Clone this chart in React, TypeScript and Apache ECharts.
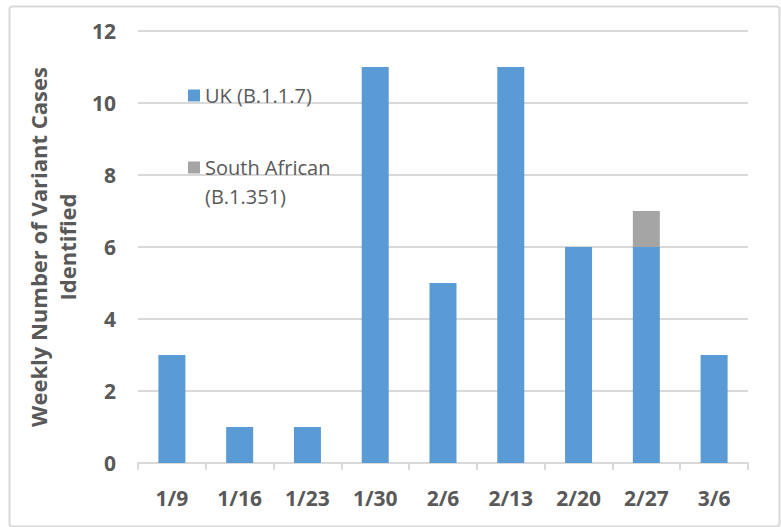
import React, { useEffect, useRef } from "react";
import * as echarts from "echarts";

const categories = ["1/9", "1/16", "1/23", "1/30", "2/6", "2/13", "2/20", "2/27", "3/6"];
const ukValues = [3, 1, 1, 11, 5, 11, 6, 6, 3];
const saValues = [0, 0, 0, 0, 0, 0, 0, 1, 0];
const yTicks = { min: 0, max: 12, interval: 2 };
const ukName = "UK (B.1.1.7)";
const saName = "South African\n(B.1.351)";
const yTitle = "Weekly Number of Variant Cases\nIdentified";

const FONT = "'Open Sans', 'Noto Sans', sans-serif";
const GRAY_TEXT = "#595959";

export default function App() {
  const ref = useRef<HTMLDivElement>(null);
  useEffect(() => {
    if (!ref.current) return;
    const chart = echarts.init(ref.current, null, { renderer: "svg" });
    chart.setOption({
      animation: false,
      backgroundColor: "#ffffff",
      textStyle: { fontFamily: FONT },
      grid: {
        left: 138,
        right: 33,
        top: 31,
        bottom: 64,
        containLabel: false,
        outerBoundsMode: "none",
      },
      graphic: [
        {
          type: "rect",
          left: 7,
          top: 4,
          shape: { width: 770, height: 520, r: 3 },
          style: { fill: "none", stroke: "#d9d9d9", lineWidth: 2 },
          silent: true,
        },
      ],
      legend: [
        {
          data: [ukName],
          orient: "vertical",
          left: 183,
          top: 76,
          itemWidth: 12,
          itemHeight: 12,
          icon: "rect",
          textStyle: { color: GRAY_TEXT, fontSize: 20, fontFamily: FONT, lineHeight: 29 },
          selectedMode: false,
        },
        {
          data: [saName],
          orient: "vertical",
          left: 183,
          top: 119,
          itemWidth: 12,
          itemHeight: 12,
          icon: "rect",
          formatter: (name: string) => " \n" + name,
          textStyle: {
            color: GRAY_TEXT,
            fontSize: 20,
            fontFamily: FONT,
            lineHeight: 29,
          },
          selectedMode: false,
        },
      ],
      xAxis: {
        type: "category",
        data: categories,
        axisLine: { lineStyle: { color: "#d9d9d9", width: 2 } },
        axisTick: { show: true, length: 7, lineStyle: { color: "#d9d9d9", width: 2 } },
        axisLabel: {
          color: GRAY_TEXT,
          fontSize: 21,
          fontWeight: "bold",
          fontFamily: FONT,
          margin: 24,
        },
      },
      yAxis: {
        type: "value",
        min: yTicks.min,
        max: yTicks.max,
        interval: yTicks.interval,
        name: yTitle,
        nameLocation: "middle",
        nameGap: 41,
        nameTextStyle: {
          color: GRAY_TEXT,
          fontSize: 22,
          fontWeight: "bold",
          fontFamily: FONT,
          lineHeight: 29,
        },
        axisLine: { show: false },
        axisTick: { show: false },
        axisLabel: {
          color: GRAY_TEXT,
          fontSize: 21,
          fontWeight: "bold",
          fontFamily: FONT,
          margin: 22,
        },
        splitLine: { lineStyle: { color: "#d9d9d9", width: 2 } },
      },
      series: [
        {
          name: ukName,
          type: "bar",
          stack: "total",
          data: ukValues,
          barWidth: 27,
          itemStyle: { color: "#5B9BD5" },
        },
        {
          name: saName,
          type: "bar",
          stack: "total",
          data: saValues,
          barWidth: 27,
          itemStyle: { color: "#A5A5A5" },
        },
      ],
    });
    return () => chart.dispose();
  }, []);
  return (
    <div
      ref={ref}
      style={{ position: "fixed", left: 0, top: 0, width: 781, height: 527 }}
    />
  );
}
